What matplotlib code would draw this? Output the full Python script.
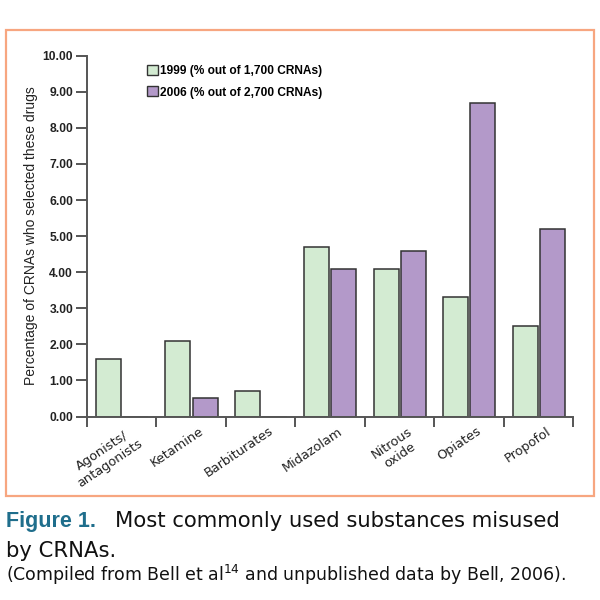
import matplotlib
matplotlib.use("Agg")
import matplotlib.pyplot as plt
from matplotlib.patches import Rectangle, Patch
import numpy as np

categories = ["Agonists/\nantagonists", "Ketamine", "Barbiturates", "Midazolam",
              "Nitrous\noxide", "Opiates", "Propofol"]
values_1999 = [1.6, 2.1, 0.7, 4.7, 4.1, 3.3, 2.5]
values_2006 = [0.0, 0.5, 0.0, 4.1, 4.6, 8.7, 5.2]
series_labels = ["1999 (% out of 1,700 CRNAs)", "2006 (% out of 2,700 CRNAs)"]
yticks = [0, 1, 2, 3, 4, 5, 6, 7, 8, 9, 10]

plt.rcParams['font.family'] = ['Liberation Sans', 'DejaVu Sans']

fig = plt.figure(figsize=(6, 6), dpi=100)
W, H = 600, 600

# orange border box
fig.patches.append(Rectangle((5.5 / W, 1 - 496 / H), (594 - 5.5) / W, (496 - 30) / H,
                             transform=fig.transFigure, fill=False,
                             edgecolor='#f7a680', linewidth=1.6))

ax = fig.add_axes([87 / W, 1 - 416.5 / H, (573 - 87) / W, (416.5 - 55.7) / H])

green = '#d3ebd2'
purple = '#b399c9'
edge = '#333333'
x = np.arange(len(categories))
ax.bar(x + 0.13, values_1999, width=0.36, align='edge', color=green,
       edgecolor=edge, linewidth=1.1, label=series_labels[0])
ax.bar(x + 0.52, values_2006, width=0.36, align='edge', color=purple,
       edgecolor=edge, linewidth=1.1, label=series_labels[1])

ax.set_xlim(0, len(categories))
ax.set_ylim(0, 10)
ax.set_yticks(yticks)
ax.set_yticklabels([f"{v:.2f}" for v in yticks], fontsize=8.7, fontweight='bold',
                   color='#222222')
ax.set_xticks(np.arange(len(categories) + 1))
ax.set_xticklabels([])
for s in ['top', 'right']:
    ax.spines[s].set_visible(False)
for s in ['left', 'bottom']:
    ax.spines[s].set_color('#555555')
    ax.spines[s].set_linewidth(1.4)
ax.tick_params(axis='y', direction='out', length=8, width=1.4, color='#555555', pad=2)
ax.tick_params(axis='x', direction='out', length=7, width=1.4, color='#555555')

for i, c in enumerate(categories):
    ax.text(i + 0.61, -0.22, c, rotation=34, ha='right', va='top',
            rotation_mode='anchor', fontsize=9.3, color='#222222',
            multialignment='center', family=['DejaVu Sans'])

ax.set_ylabel("Percentage of CRNAs who selected these drugs", fontsize=10,
              color='#222222', labelpad=3)

handles = [Patch(facecolor=green, edgecolor=edge, linewidth=1.0),
           Patch(facecolor=purple, edgecolor=edge, linewidth=1.0)]
ax.legend(handles, series_labels, loc='upper left', bbox_to_anchor=(0.1235, 0.975),
          frameon=False, handlelength=0.92, handleheight=0.92,
          handletextpad=0.17, labelspacing=0.8, borderaxespad=0, borderpad=0,
          prop={'weight': 'bold', 'size': 8.6})

# caption
fig.text(6 / W, 1 - 527 / H, "Figure 1.", fontsize=15.5, fontweight='bold',
         color='#1f6e8c', va='baseline', ha='left', family=['Liberation Sans'])
fig.text(115 / W, 1 - 527 / H, "Most commonly used substances misused",
         fontsize=15.2, color='#111111', va='baseline', ha='left',
         family=['DejaVu Sans'])
fig.text(6 / W, 1 - 557 / H, "by CRNAs.", fontsize=15.2, color='#111111',
         va='baseline', ha='left', family=['DejaVu Sans'])
fig.text(6 / W, 1 - 581 / H,
         r"(Compiled from Bell et al$^{\mathregular{14}}$ and unpublished data by Bell, 2006).",
         fontsize=12.5, color='#111111', va='baseline', ha='left',
         family=['DejaVu Sans'])

fig.savefig("out.png", dpi=100)
